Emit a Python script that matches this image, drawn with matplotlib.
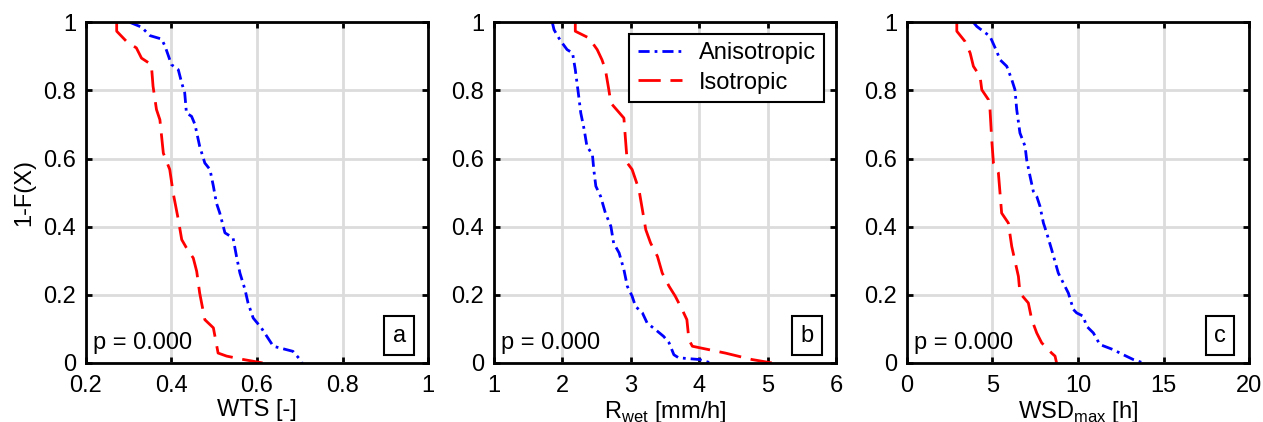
import numpy as np
import matplotlib
matplotlib.use("Agg")
import matplotlib.pyplot as plt

plt.rcParams['font.family'] = ['Liberation Sans', 'DejaVu Sans']
plt.rcParams['font.size'] = 17

# panel a: WTS [-]
wts_aniso_x = [0.303, 0.330, 0.350, 0.377, 0.385, 0.392, 0.400, 0.416, 0.424, 0.431, 0.435, 0.447,
               0.455, 0.466, 0.478, 0.490, 0.498, 0.505, 0.513, 0.525, 0.544, 0.552, 0.560, 0.572,
               0.579, 0.591, 0.610, 0.638, 0.684, 0.704, 0.705]
wts_aniso_y = [1.0, 0.986, 0.961, 0.951, 0.930, 0.905, 0.876, 0.861, 0.822, 0.793, 0.734, 0.724,
               0.700, 0.636, 0.587, 0.568, 0.519, 0.470, 0.440, 0.382, 0.367, 0.313, 0.264, 0.215,
               0.176, 0.132, 0.103, 0.049, 0.034, 0.005, 0.0]
wts_iso_x = [0.272, 0.272, 0.295, 0.318, 0.330, 0.353, 0.357, 0.365, 0.373, 0.381, 0.396, 0.404,
             0.416, 0.424, 0.435, 0.451, 0.459, 0.466, 0.478, 0.498, 0.509, 0.529, 0.568, 0.613]
wts_iso_y = [1.0, 0.974, 0.944, 0.925, 0.895, 0.876, 0.812, 0.744, 0.714, 0.616, 0.568, 0.499,
             0.421, 0.362, 0.338, 0.308, 0.269, 0.205, 0.127, 0.103, 0.029, 0.020, 0.010, 0.0]

# panel b: R_wet [mm/h]
rwet_aniso_x = [1.854, 1.88, 1.95, 2.0, 2.07, 2.15, 2.19, 2.24, 2.27, 2.32, 2.36, 2.44, 2.46, 2.49,
                2.56, 2.63, 2.71, 2.75, 2.83, 2.90, 2.95, 3.02, 3.07, 3.17, 3.24, 3.36, 3.48, 3.56,
                3.63, 3.70, 4.0, 4.17]
rwet_aniso_y = [1.0, 0.978, 0.954, 0.939, 0.920, 0.910, 0.861, 0.783, 0.734, 0.685, 0.636, 0.612,
                0.568, 0.519, 0.489, 0.440, 0.401, 0.352, 0.323, 0.274, 0.225, 0.196, 0.166, 0.147,
                0.117, 0.098, 0.078, 0.059, 0.024, 0.015, 0.010, 0.0]
rwet_iso_x = [2.19, 2.19, 2.39, 2.51, 2.58, 2.63, 2.68, 2.71, 2.90, 2.92, 2.95, 3.02, 3.12, 3.17,
              3.22, 3.29, 3.39, 3.46, 3.56, 3.65, 3.75, 3.82, 3.85, 3.90, 4.38, 4.77, 5.06]
rwet_iso_y = [1.0, 0.974, 0.954, 0.920, 0.890, 0.861, 0.802, 0.763, 0.719, 0.665, 0.587, 0.568,
              0.509, 0.450, 0.391, 0.352, 0.313, 0.264, 0.225, 0.196, 0.157, 0.127, 0.068, 0.049,
              0.029, 0.010, 0.0]

# panel c: WSD_max [h]
wsd_aniso_x = [3.89, 4.09, 4.86, 5.25, 5.45, 5.84, 6.13, 6.32, 6.42, 6.61, 6.91, 7.0, 7.2, 7.39,
               7.59, 7.78, 7.98, 8.17, 8.46, 8.85, 9.14, 9.44, 9.73, 9.92, 10.31, 10.5, 10.9, 11.28,
               12.06, 12.65, 13.23, 13.81]
wsd_aniso_y = [1.0, 0.988, 0.959, 0.915, 0.890, 0.871, 0.832, 0.802, 0.744, 0.675, 0.636, 0.597,
               0.548, 0.504, 0.489, 0.460, 0.411, 0.382, 0.333, 0.264, 0.235, 0.205, 0.157, 0.147,
               0.137, 0.108, 0.088, 0.054, 0.039, 0.024, 0.010, 0.0]
wsd_iso_x = [2.92, 2.92, 3.40, 3.70, 3.89, 4.28, 4.38, 4.77, 4.86, 4.96, 5.06, 5.35, 5.54, 5.93,
             6.13, 6.52, 6.61, 7.10, 7.30, 7.59, 7.88, 8.46, 8.66, 8.75]
wsd_iso_y = [1.0, 0.974, 0.944, 0.910, 0.871, 0.841, 0.802, 0.773, 0.744, 0.656, 0.587, 0.558,
             0.440, 0.411, 0.342, 0.254, 0.205, 0.176, 0.127, 0.088, 0.059, 0.029, 0.020, 0.0]

panels = [
    (wts_aniso_x, wts_aniso_y, wts_iso_x, wts_iso_y, (0.2, 1.0), [0.2, 0.4, 0.6, 0.8, 1.0],
     ['0.2', '0.4', '0.6', '0.8', '1'], 'WTS [-]', 'a'),
    (rwet_aniso_x, rwet_aniso_y, rwet_iso_x, rwet_iso_y, (1, 6), [1, 2, 3, 4, 5, 6],
     ['1', '2', '3', '4', '5', '6'], 'R$_{\\mathregular{wet}}$ [mm/h]', 'b'),
    (wsd_aniso_x, wsd_aniso_y, wsd_iso_x, wsd_iso_y, (0, 20), [0, 5, 10, 15, 20],
     ['0', '5', '10', '15', '20'], 'WSD$_{\\mathregular{max}}$ [h]', 'c'),
]
y_ticks = [0, 0.2, 0.4, 0.6, 0.8, 1.0]
y_labels = ['0', '0.2', '0.4', '0.6', '0.8', '1']

fig = plt.figure(figsize=(12.63, 4.22), dpi=100)
lefts = [0.068, 0.391, 0.718]

for i, (ax_x, ax_y, is_x, is_y, xlim, xt, xtl, xlab, letter) in enumerate(panels):
    ax = fig.add_axes([lefts[i], 0.140, 0.271, 0.807])
    ax.plot(ax_x, ax_y, color='blue', lw=2, linestyle=(0, (4, 1.8, 1, 1.8)), label='Anisotropic')
    ax.plot(is_x, is_y, color='red', lw=2, linestyle=(0, (8, 3.5)), label='Isotropic')
    ax.set_xlim(xlim)
    ax.set_ylim(0, 1)
    ax.set_xticks(xt)
    ax.set_xticklabels(xtl)
    ax.set_yticks(y_ticks)
    ax.set_yticklabels(y_labels)
    ax.grid(True, color='#dcdcdc', lw=2)
    ax.set_axisbelow(True)
    ax.tick_params(direction='in', length=4, width=2, top=True, right=True, pad=7)
    ax.tick_params(axis='x', pad=9)
    for s in ax.spines.values():
        s.set_linewidth(2)
    ax.set_xlabel(xlab, labelpad=1)
    ax.text(0.02, 0.025, 'p = 0.000', transform=ax.transAxes, ha='left', va='bottom')
    ax.text(0.915, 0.08, letter, transform=ax.transAxes, ha='center', va='center',
            bbox=dict(boxstyle='square,pad=0.35', fc='white', ec='black', lw=1.5))
    if i == 0:
        ax.set_ylabel('1-F(X)', labelpad=6)
    if i == 1:
        leg = ax.legend(loc='upper right', fancybox=False, framealpha=1, edgecolor='black',
                        handlelength=1.9, handletextpad=0.7, borderaxespad=0.5,
                        borderpad=0.35, labelspacing=0.3)
        leg.get_frame().set_linewidth(1.5)

fig.savefig('out.png', dpi=100)
